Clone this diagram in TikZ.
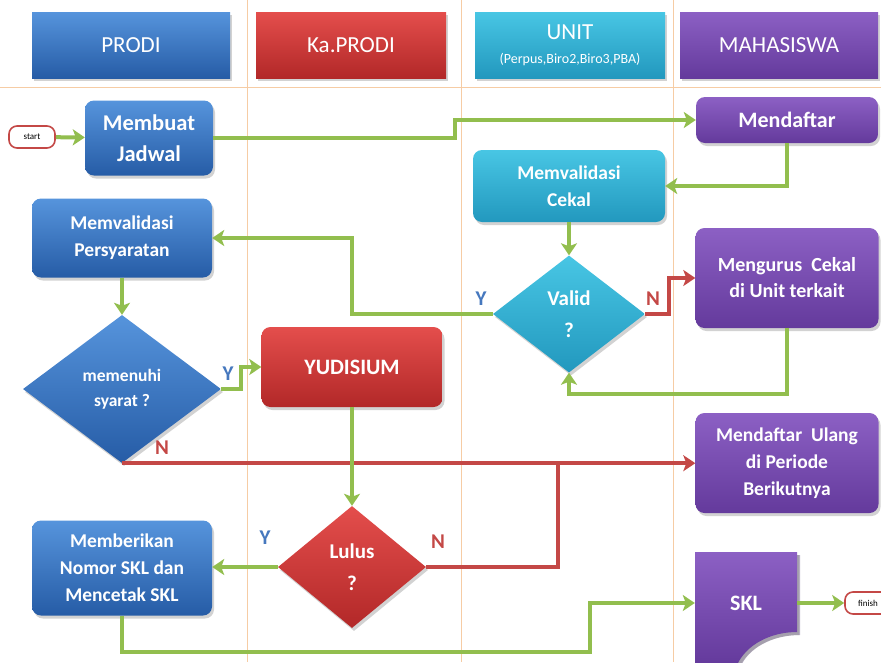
\documentclass[tikz,border=0pt]{standalone}
\usepackage{fontspec}
\setmainfont{Carlito}
\usetikzlibrary{arrows.meta,shapes.geometric,shadows}

\definecolor{prodihi}{RGB}{86,148,220}
\definecolor{prodilo}{RGB}{38,92,166}
\definecolor{kaprodihi}{RGB}{228,78,76}
\definecolor{kaprodilo}{RGB}{178,40,40}
\definecolor{unithi}{RGB}{72,198,228}
\definecolor{unitlo}{RGB}{34,152,190}
\definecolor{mhshi}{RGB}{140,96,196}
\definecolor{mhslo}{RGB}{100,58,156}
\definecolor{flowgreen}{RGB}{146,190,78}
\definecolor{flowred}{RGB}{196,72,70}
\definecolor{laneorange}{RGB}{246,204,164}
\definecolor{ylabel}{RGB}{70,120,190}

\newcommand\headw{198pt}
\newcommand\headh{66pt}
\newcommand\heady{45}

\tikzset{
  lane/.style={draw=laneorange, line width=0.9pt},
  shade/.style={drop shadow={opacity=0.35, shadow xshift=2pt, shadow yshift=-3pt}},
  head/.style={rectangle, minimum width=\headw, minimum height=\headh, align=center,
    text=white, font=\fontsize{23}{26}\selectfont, shade},
  proc/.style={rectangle, rounded corners=9pt, align=center, text=white, shade,
    font=\fontsize{19.5}{27}\selectfont\bfseries},
  decision/.style={diamond, inner sep=0pt, align=center, text=white, shade,
    font=\fontsize{21}{32}\selectfont\bfseries},
  prodifill/.style={top color=prodihi, bottom color=prodilo},
  kaprodifill/.style={top color=kaprodihi, bottom color=kaprodilo},
  unitfill/.style={top color=unithi, bottom color=unitlo},
  mhsfill/.style={top color=mhshi, bottom color=mhslo},
  term/.style={rectangle, rounded corners=8pt, draw=flowred, line width=1.6pt, fill=white,
    minimum width=46pt, minimum height=22pt, inner sep=1pt, font=\fontsize{9}{10}\selectfont},
  flow/.style={draw=flowgreen, line width=4pt, -{Stealth[length=12pt, width=16pt, inset=3pt]}},
  noflow/.style={draw=flowred, line width=4pt, -{Stealth[length=12pt, width=16pt, inset=3pt]}},
  yes/.style={text=ylabel, font=\fontsize{21}{21}\selectfont\bfseries},
  no/.style={text=flowred, font=\fontsize{21}{21}\selectfont\bfseries}
}

\begin{document}
\begin{tikzpicture}[x=1pt, y=-1pt]
  \useasboundingbox (0,0) rectangle (881,662);
  \clip (0,0) rectangle (881,662);
  \fill[white] (0,0) rectangle (881,662);

  \draw[lane] (247,0) -- (247,662);
  \draw[lane] (461,0) -- (461,662);
  \draw[lane] (673,0) -- (673,662);
  \draw[lane] (0,87) -- (881,87);

  \node[head, prodifill] (hprodi) at (131,\heady) {PRODI};
  \node[head, kaprodifill, minimum width=190pt] (hkaprodi) at (351,\heady) {Ka.PRODI};
  \node[head, unitfill, minimum width=190pt] (hunit) at (570,\heady)
    {UNIT\\[-2pt]{\fontsize{14}{16}\selectfont(Perpus,Biro2,Biro3,PBA)}};
  \node[head, mhsfill] (hmhs) at (779,\heady) {MAHASISWA};

  \node[term] (start) at (32,137) {start};
  \node[proc, prodifill, minimum width=128pt, minimum height=75pt,
    font=\fontsize{22.5}{31}\selectfont\bfseries] (jadwal) at (149,138) {Membuat\\Jadwal};
  \node[proc, mhsfill, minimum width=182pt, minimum height=46pt,
    font=\fontsize{22}{26}\selectfont\bfseries] (daftar) at (787,120) {Mendaftar};
  \node[proc, unitfill, minimum width=192pt, minimum height=72pt] (cekal) at (569,186)
    {Memvalidasi\\Cekal};
  \node[proc, prodifill, minimum width=180pt, minimum height=79pt] (persy) at (122,238)
    {Memvalidasi\\Persyaratan};
  \node[decision, unitfill, minimum width=152pt, minimum height=117pt] (valid) at (569,314)
    {Valid\\?};
  \node[proc, mhsfill, minimum width=183pt, minimum height=100pt,
    font=\fontsize{20}{26}\selectfont\bfseries] (cekalunit) at (787,278)
    {Mengurus\ \ Cekal\\di Unit terkait};
  \node[decision, prodifill, minimum width=198pt, minimum height=148pt,
    font=\fontsize{17.5}{25}\selectfont\bfseries] (syarat) at (122,389) {memenuhi\\syarat ?};
  \node[proc, kaprodifill, minimum width=181pt, minimum height=80pt,
    font=\fontsize{22}{26}\selectfont\bfseries] (yudisium) at (352,367) {YUDISIUM};
  \node[proc, mhsfill, minimum width=183pt, minimum height=100pt] (ulang) at (787,463)
    {Mendaftar\ \ Ulang\\di Periode\\Berikutnya};
  \node[decision, kaprodifill, minimum width=148pt, minimum height=122pt] (lulus) at (352,567)
    {Lulus\\?};
  \node[proc, prodifill, minimum width=180pt, minimum height=95pt] (nomor) at (122,568)
    {Memberikan\\Nomor SKL dan\\Mencetak SKL};

  \fill[mhslo!60!black, opacity=0.35] (698,555) -- (800,555) -- (800,635)
    .. controls (772,635) and (748,648) .. (740,668) -- (698,668) -- cycle;
  \shade[top color=mhshi, bottom color=mhslo] (695,552) -- (797,552) -- (797,632)
    .. controls (770,632) and (746,645) .. (737,665) -- (695,665) -- cycle;
  \node[text=white, font=\fontsize{22}{26}\selectfont\bfseries, minimum width=102pt,
    minimum height=30pt] (skl) at (746,603) {SKL};
  \node[term] (finish) at (868,603) {finish};

  \draw[flow] (start) -- (jadwal);
  \draw[flow] (jadwal.east) -- ++(242,0) |- (daftar.west);
  \draw[flow] (daftar.south) |- (cekal.east);
  \draw[flow] (cekal.south) -- (valid.north);
  \draw[flow] (valid.west) -- ++(-141,0) |- (persy.east);
  \draw[noflow] (valid.east) -- ++(24,0) |- (cekalunit.west);
  \draw[flow] (cekalunit.south) -- ++(0,66) -| (valid.south);
  \draw[flow] (persy.south) -- (syarat.north);
  \draw[flow] (syarat.east) -- ++(20,0) |- (yudisium.west);
  \draw[noflow] (syarat.south) -- (syarat.south -| ulang.west);
  \draw[flow] (yudisium.south) -- (lulus.north);
  \coordinate (merge) at (558,463);
  \draw[draw=flowred, line width=4pt] (lulus.east) -| (merge);
  \draw[flow] (lulus.west) -- (lulus.west -| nomor.east);
  \coordinate (bend) at (590,652);
  \draw[flow] (nomor.south) |- (bend) |- (skl.west);
  \draw[flow] (skl.east) -- (finish.west);

  \node[yes] (yvalid) at (481,299) {Y};
  \node[no] (nvalid) at (653,299) {N};
  \node[yes] (ysyarat) at (228,374) {Y};
  \node[no] (nsyarat) at (162,448) {N};
  \node[yes] (ylulus) at (265,538) {Y};
  \node[no] (nlulus) at (438,542) {N};
\end{tikzpicture}
\end{document}
